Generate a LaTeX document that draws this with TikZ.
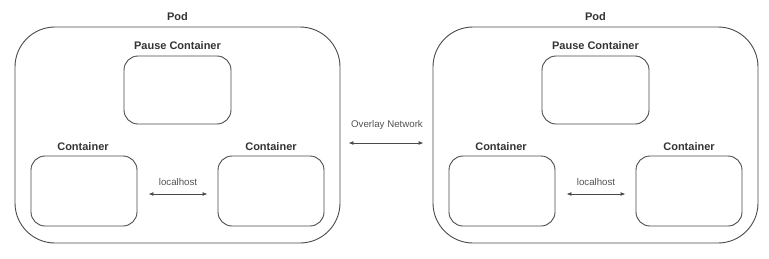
\documentclass[tikz,border=0pt]{standalone}
\usepackage{fontspec}
\setmainfont{Liberation Sans}
\usetikzlibrary{arrows.meta}
\definecolor{ln}{HTML}{4A4A4A}
\definecolor{tx}{HTML}{333333}
\tikzset{
  podbox/.style={draw=ln, line width=0.9pt, rounded corners=40pt, minimum width=325pt, minimum height=216pt, inner sep=0pt},
  ctbox/.style={draw=ln, line width=0.9pt, rounded corners=14pt, minimum width=106pt, minimum height=70pt, inner sep=0pt},
  pausebox/.style={ctbox, minimum width=107pt, minimum height=68pt},
  title/.style={text=tx, font=\fontsize{11}{13}\selectfont\bfseries, inner sep=0pt},
  small/.style={text=tx!85, font=\fontsize{9.7}{12}\selectfont, inner sep=0pt},
  link/.style={draw=ln, line width=0.9pt, {Latex[length=5pt,width=4pt]}-{Latex[length=5pt,width=4pt]}}
}
\begin{document}
\begin{tikzpicture}[x=1pt,y=-1pt]
\useasboundingbox (0,0) rectangle (769,258);
\foreach \dx/\n in {0/L,418/R}{
  \begin{scope}[xshift=\dx]
  \node[podbox] (podbox\n) at (177.5,135) {};
  \node[title] (pod\n) at (177.5,17) {Pod};
  \node[pausebox] (pause\n) at (177.5,90) {};
  \node[title] (pl\n) at (177.5,46) {Pause Container};
  \node[ctbox] (left\n) at (84,191) {};
  \node[title] (cl\n) at (83,147) {Container};
  \node[ctbox] (right\n) at (271,191) {};
  \node[title] (cr\n) at (271,147) {Container};
  \node[small] (lh\n) at (178,182) {localhost};
  \coordinate (a\n) at ([xshift=11pt,yshift=-3pt]left\n.east);
  \coordinate (b\n) at ([xshift=-10pt,yshift=-3pt]right\n.west);
  \draw[link] (a\n) -- (b\n);
  \end{scope}
}
\node[small] (ov) at (387,125) {Overlay Network};
\coordinate (o1) at ([xshift=8pt]podboxL.east |- 0,143);
\coordinate (o2) at ([xshift=-9pt]podboxR.west |- 0,143);
\draw[link] (o1) -- (o2);
\end{tikzpicture}
\end{document}
